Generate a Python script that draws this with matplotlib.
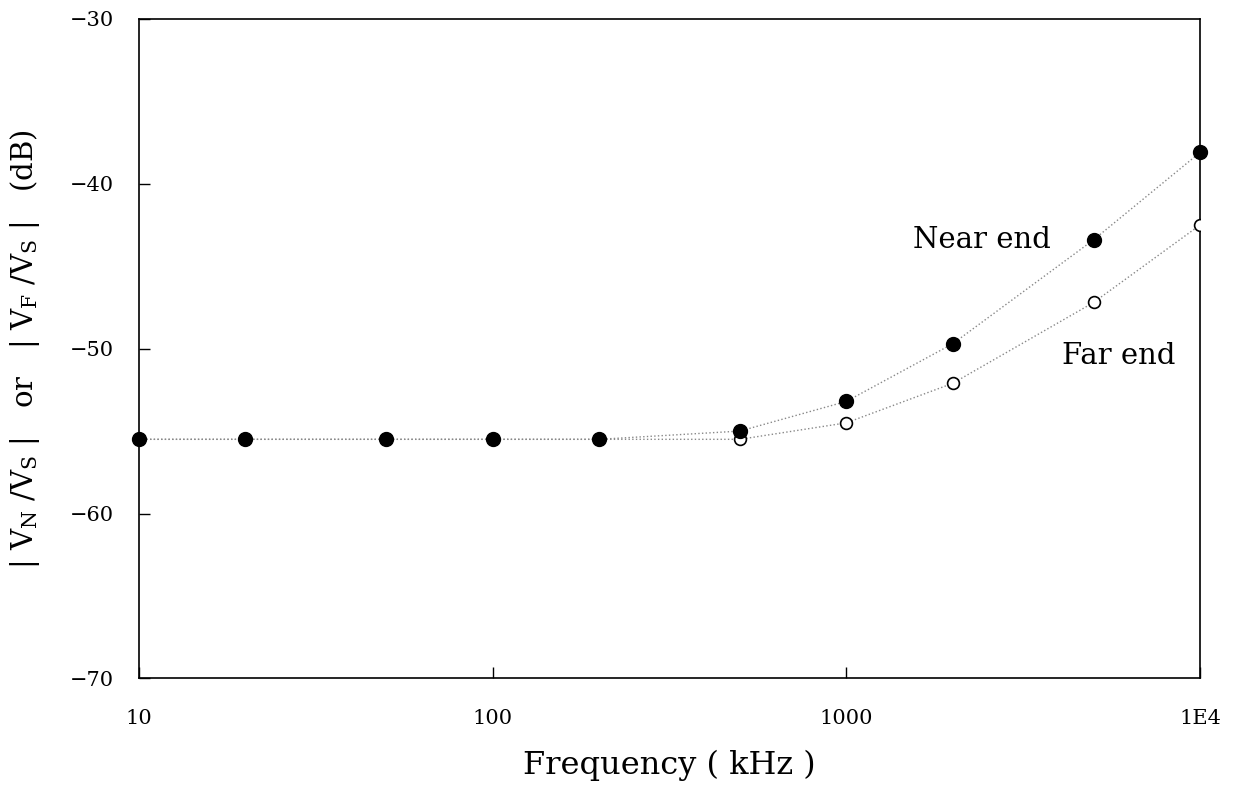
import matplotlib
matplotlib.use("Agg")
import matplotlib.pyplot as plt

# frequencies in kHz
freq = [10, 20, 50, 100, 200, 500, 1000, 2000, 5000, 10000]
near_end = [-55.5, -55.5, -55.5, -55.5, -55.5, -55.0, -53.2, -49.7, -43.4, -38.1]
far_end = [-55.5, -55.5, -55.5, -55.5, -55.5, -55.5, -54.5, -52.1, -47.2, -42.5]

x_ticks = [10, 100, 1000, 10000]
x_tick_labels = ["10", "100", "1000", "1E4"]
y_ticks = [-70, -60, -50, -40, -30]

plt.rcParams['font.family'] = 'DejaVu Serif'
plt.rcParams['mathtext.fontset'] = 'dejavuserif'

fig = plt.figure(figsize=(12.41, 7.87), dpi=100)
ax = fig.add_axes([0.112, 0.138, 0.855, 0.838])

ax.plot(freq, far_end, color="#888888", linestyle=":", linewidth=1.0,
        marker="o", markersize=8.5, markerfacecolor="white",
        markeredgecolor="black", markeredgewidth=1.2, zorder=3)
ax.plot(freq, near_end, color="#888888", linestyle=":", linewidth=1.0,
        marker="o", markersize=10, markerfacecolor="black",
        markeredgecolor="black", zorder=4, clip_on=False)

ax.set_xscale("log")
ax.set_xlim(10, 10000)
ax.set_ylim(-70, -30)
ax.set_xticks(x_ticks)
ax.set_xticklabels(x_tick_labels)
ax.minorticks_off()
ax.set_yticks(y_ticks)
ax.tick_params(axis="both", direction="in", length=8, width=1, labelsize=15)
ax.tick_params(axis="x", pad=22)
ax.tick_params(axis="y", pad=18)
for sp in ax.spines.values():
    sp.set_linewidth(1.2)

ax.text(2420, -43.4, "Near end", fontsize=21, ha="center", va="center")
ax.text(5900, -50.45, "Far end", fontsize=21, ha="center", va="center")

ax.set_xlabel("Frequency ( kHz )", fontsize=23, labelpad=16)
ax.set_ylabel(r"| V$_\mathregular{N}$ /V$_\mathregular{S}$ |   or   "
              r"| V$_\mathregular{F}$ /V$_\mathregular{S}$ |   (dB)",
              fontsize=21, labelpad=20)

fig.savefig("out.png", dpi=100)
